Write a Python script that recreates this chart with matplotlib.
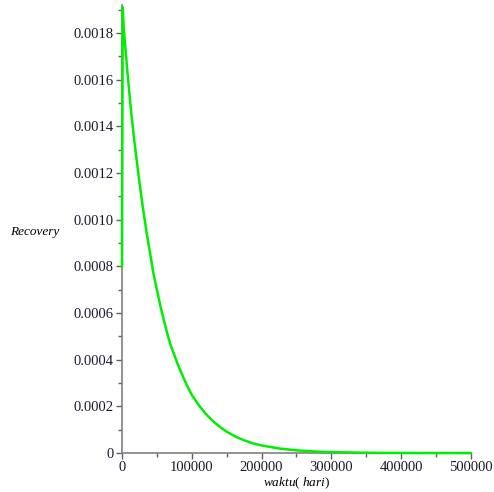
import matplotlib
matplotlib.use("Agg")
import matplotlib.pyplot as plt
from matplotlib.ticker import MultipleLocator, FuncFormatter

# values
waktu = [0, 1000, 2500, 5000, 7500, 10000, 12500, 15000, 17500, 20000,
         25000, 30000, 35000, 40000, 45000, 50000, 55000, 60000, 65000,
         70000, 75000, 80000, 85000, 90000, 95000, 100000, 110000, 120000,
         130000, 140000, 150000, 162500, 175000, 187500, 200000, 225000,
         250000, 275000, 300000, 350000, 400000, 450000, 500000]
recovery = [0.00080, 0.00191, 0.00182, 0.00173, 0.00164, 0.00156, 0.00148,
            0.00141, 0.00134, 0.00128, 0.00116, 0.00105, 0.00095, 0.00086,
            0.00077, 0.00070, 0.00063, 0.00057, 0.00051, 0.00046, 0.00042,
            0.00038, 0.000345, 0.00031, 0.000278, 0.00025, 0.000206,
            0.000168, 0.000138, 0.000113, 0.000092, 0.000071, 0.000055,
            0.000042, 0.000033, 0.000020, 0.000012, 0.0000072, 0.0000044,
            0.0000016, 0.0000006, 0.0000002, 0.0000001]

plt.rcParams["font.family"] = ["Liberation Serif", "DejaVu Serif"]
plt.rcParams["mathtext.fontset"] = "custom"
plt.rcParams["mathtext.rm"] = "Liberation Serif"
plt.rcParams["mathtext.it"] = "Liberation Serif:italic"

fig = plt.figure(figsize=(4.94, 4.92), dpi=100)
ax = fig.add_axes([0.247, 0.079, 0.706, 0.911])

ax.plot(waktu, recovery, color="#00ee00", linewidth=1.8, zorder=5,
        clip_on=False)

ax.set_xlim(0, 500000)
ax.set_ylim(0, 0.00192)

for s in ["top", "right"]:
    ax.spines[s].set_visible(False)
for s in ["left", "bottom"]:
    ax.spines[s].set_color("#808080")
    ax.spines[s].set_linewidth(1.2)

ax.xaxis.set_major_locator(MultipleLocator(100000))
ax.xaxis.set_minor_locator(MultipleLocator(50000))
ax.yaxis.set_major_locator(MultipleLocator(0.0002))
ax.yaxis.set_minor_locator(MultipleLocator(0.0001))
ax.yaxis.set_major_formatter(FuncFormatter(lambda v, p: "0" if abs(v) < 1e-12 else f"{v:.4f}"))
ax.xaxis.set_major_formatter(FuncFormatter(lambda v, p: f"{int(round(v))}"))

ax.tick_params(which="major", direction="out", length=4, width=1,
               color="#606060", labelsize=10.5, labelcolor="#1a1a2e", pad=2)
ax.tick_params(which="minor", direction="out", length=3, width=1,
               color="#606060")

ax.set_xlabel("$\\it{waktu}$( $\\it{hari}$)", fontsize=9.5)
ax.xaxis.set_label_coords(0.5, -0.05)
ax.set_ylabel("Recovery", fontsize=9.5, style="italic", rotation=0,
              va="center", ha="center")
ax.yaxis.set_label_coords(-0.25, 0.493)

fig.savefig("out.png", dpi=100)
